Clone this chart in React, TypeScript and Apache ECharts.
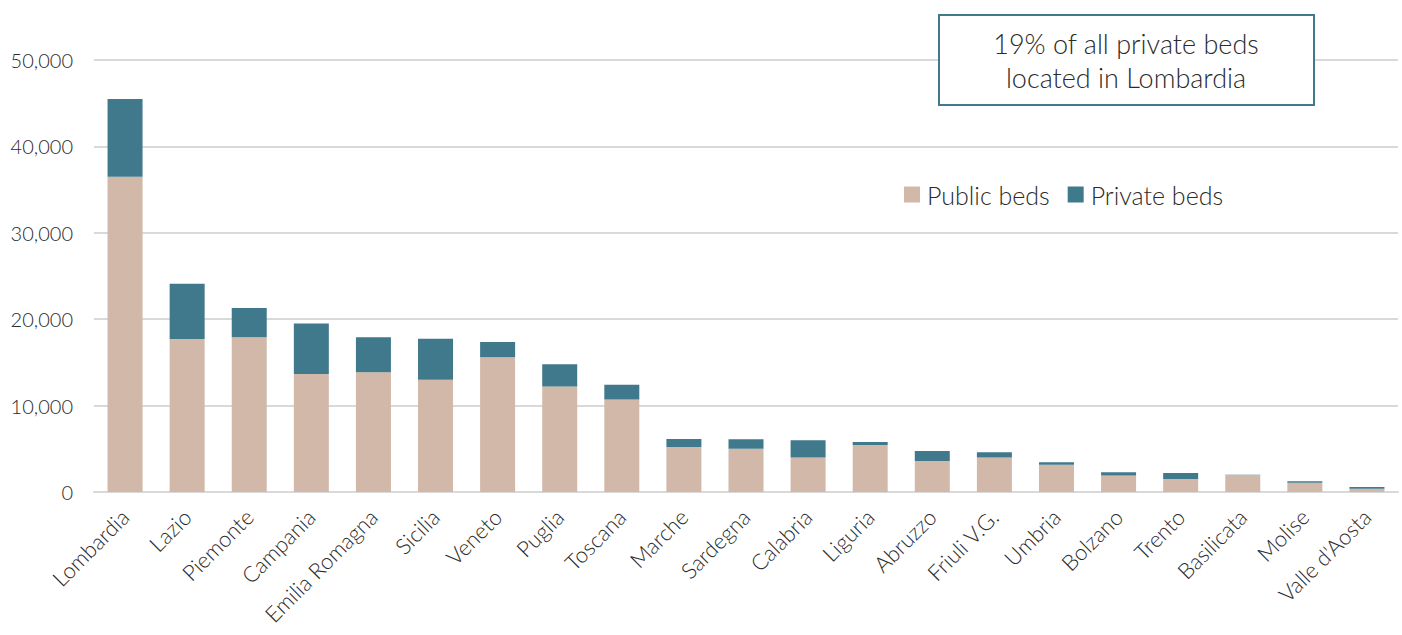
import React, { useEffect, useRef } from "react";
import * as echarts from "echarts";

const regions = ["Lombardia", "Lazio", "Piemonte", "Campania", "Emilia Romagna", "Sicilia", "Veneto", "Puglia", "Toscana", "Marche", "Sardegna", "Calabria", "Liguria", "Abruzzo", "Friuli V.G.", "Umbria", "Bolzano", "Trento", "Basilicata", "Molise", "Valle d'Aosta"];
const publicBeds = [36500, 17700, 17900, 13650, 13850, 13000, 15600, 12200, 10700, 5200, 5000, 4000, 5440, 3600, 4000, 3160, 1900, 1500, 1970, 1080, 380];
const privateBeds = [9000, 6400, 3400, 5850, 4050, 4750, 1760, 2600, 1700, 930, 1100, 1980, 350, 1150, 600, 270, 400, 700, 20, 160, 200];
const yTicks = { min: 0, max: 50000, interval: 10000 };
const noteLines = ["19% of all private beds", "located in Lombardia"];

const FONT = "Lato";
const TEXT = "#2b2b2b";

export default function App() {
  const ref = useRef<HTMLDivElement>(null);
  useEffect(() => {
    if (!ref.current) return;
    const chart = echarts.init(ref.current, null, { renderer: "svg" });
    chart.setOption({
      animation: false,
      textStyle: { fontFamily: FONT },
      grid: { left: 94, right: 4, top: 60, bottom: 143, containLabel: false },
      legend: {
        left: 899,
        top: 177,
        itemWidth: 16,
        itemHeight: 16,
        itemGap: 18,
        icon: "rect",
        textStyle: { fontFamily: FONT, fontSize: 25, fontWeight: 300, color: TEXT, padding: [0, 0, 0, 2] },
        data: ["Public beds", "Private beds"],
      },
      xAxis: {
        type: "category",
        data: regions,
        axisTick: { show: false },
        axisLine: { lineStyle: { color: "#d9d9d9", width: 2 } },
        axisLabel: {
          rotate: 45,
          interval: 0,
          margin: 21,
          fontFamily: FONT,
          fontSize: 22,
          fontWeight: 300,
          color: TEXT,
        },
      },
      yAxis: {
        type: "value",
        min: yTicks.min,
        max: yTicks.max,
        interval: yTicks.interval,
        axisLine: { show: false },
        axisTick: { show: false },
        splitLine: { lineStyle: { color: "#d9d9d9", width: 2 } },
        axisLabel: {
          margin: 21,
          fontFamily: FONT,
          fontSize: 20,
          fontWeight: 300,
          color: TEXT,
          formatter: (v: number) => v.toLocaleString("en-US"),
        },
      },
      series: [
        {
          name: "Public beds",
          type: "bar",
          stack: "beds",
          data: publicBeds,
          barWidth: 35,
          itemStyle: { color: "#D2B8A8" },
        },
        {
          name: "Private beds",
          type: "bar",
          stack: "beds",
          data: privateBeds,
          barWidth: 35,
          itemStyle: { color: "#40788C" },
        },
      ],
      graphic: [
        {
          type: "rect",
          shape: { x: 939, y: 15, width: 375, height: 90 },
          style: { fill: "#ffffff", stroke: "#40788C", lineWidth: 2 },
          z: 10,
        },
        {
          type: "text",
          x: 1126,
          y: 60,
          z: 11,
          style: {
            text: noteLines.join("\n"),
            fontFamily: FONT,
            fontSize: 27,
            fontWeight: 300,
            lineHeight: 34,
            fill: TEXT,
            align: "center",
            verticalAlign: "middle",
          },
        },
      ],
    });
    return () => chart.dispose();
  }, []);
  return <div ref={ref} style={{ position: "fixed", left: 0, top: 0, width: 1402, height: 635, background: "#fff" }} />;
}
